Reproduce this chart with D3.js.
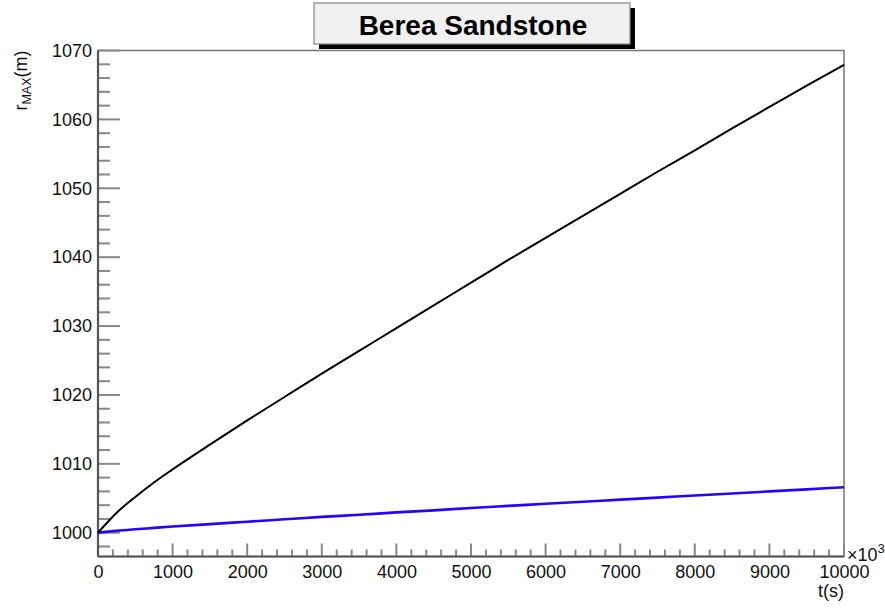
<!DOCTYPE html>
<html>
<head>
<meta charset="utf-8">
<script src="https://cdn.jsdelivr.net/npm/d3@7"></script>
<style>
  html, body { margin: 0; padding: 0; background: #fff; }
  svg { display: block; font-family: "Liberation Sans", Arial, Helvetica, sans-serif; }
</style>
</head>
<body>
<svg id="chart" width="885" height="608"></svg>
<script>
// Time samples (axis units, ×10^3 s)
const times = [0, 100, 250, 500, 750, 1000, 1500, 2000, 2500, 3000, 3500, 4000, 4500, 5000,
               5500, 6000, 6500, 7000, 7500, 8000, 8500, 9000, 9500, 10000];
// Maximum radius r_MAX (m), upper curve
const rmaxBlack = [1000, 1001.2, 1002.9, 1005.2, 1007.3, 1009.2, 1012.8, 1016.3, 1019.7, 1023.1, 1026.4,
                   1029.7, 1033.0, 1036.3, 1039.6, 1042.8, 1046.0, 1049.2, 1052.4, 1055.5, 1058.7,
                   1061.8, 1064.9, 1067.9];
// Maximum radius r_MAX (m), lower curve
const rmaxBlue = [1000, 1000.12, 1000.28, 1000.5, 1000.7, 1000.9, 1001.25, 1001.6, 1001.95, 1002.3, 1002.6,
                  1002.95, 1003.25, 1003.6, 1003.9, 1004.2, 1004.5, 1004.8, 1005.1, 1005.4, 1005.7,
                  1006.0, 1006.3, 1006.6];
const xTicks = [0, 1000, 2000, 3000, 4000, 5000, 6000, 7000, 8000, 9000, 10000];
const yTicks = [1000, 1010, 1020, 1030, 1040, 1050, 1060, 1070];
const titleText = "Berea Sandstone";

(function () {
  const svg = d3.select("#chart");
  const pl = 98, pr = 844, pt = 50.5, pb = 556.5;

  const x = d3.scaleLinear().domain([0, 10000]).range([pl, pr]);
  const y = d3.scaleLinear().domain([996.55, 1070]).range([pb, pt]);

  const axisColor = "#555";
  const tickColor = "#888";

  // Frame (top and right edges)
  svg.append("rect")
    .attr("x", pl).attr("y", pt)
    .attr("width", pr - pl).attr("height", pb - pt)
    .attr("fill", "none").attr("stroke", "#777").attr("stroke-width", 1.5);

  // Minor ticks
  const yMinor = d3.range(998, 1070, 2).filter(v => v % 10 !== 0);
  const xMinor = d3.range(200, 10000, 200).filter(v => v % 1000 !== 0);

  const g = svg.append("g");
  g.selectAll("line.ymin").data(yMinor).join("line").attr("class", "ymin")
    .attr("x1", pl).attr("x2", pl + 12)
    .attr("y1", d => y(d)).attr("y2", d => y(d))
    .attr("stroke", tickColor).attr("stroke-width", 2);
  g.selectAll("line.ymaj").data(yTicks).join("line").attr("class", "ymaj")
    .attr("x1", pl).attr("x2", pl + 22)
    .attr("y1", d => y(d)).attr("y2", d => y(d))
    .attr("stroke", tickColor).attr("stroke-width", 2);
  g.selectAll("line.xmin").data(xMinor).join("line").attr("class", "xmin")
    .attr("x1", d => x(d)).attr("x2", d => x(d))
    .attr("y1", pb).attr("y2", pb - 7)
    .attr("stroke", tickColor).attr("stroke-width", 2);
  g.selectAll("line.xmaj").data(xTicks).join("line").attr("class", "xmaj")
    .attr("x1", d => x(d)).attr("x2", d => x(d))
    .attr("y1", pb).attr("y2", pb - 13)
    .attr("stroke", tickColor).attr("stroke-width", 2);

  // Axis labels via d3 axes (tick lines hidden, only text used)
  const yAxis = d3.axisLeft(y).tickValues(yTicks).tickSize(0).tickPadding(6).tickFormat(d3.format("d"));
  const yg = svg.append("g").attr("transform", `translate(${pl},0)`).call(yAxis);
  yg.select(".domain").remove();
  yg.selectAll("text").attr("font-size", 18).attr("fill", "#111")
    .attr("font-family", "Liberation Sans, Arial, sans-serif");

  const xAxis = d3.axisBottom(x).tickValues(xTicks).tickSize(0).tickPadding(9).tickFormat(d3.format("d"));
  const xg = svg.append("g").attr("transform", `translate(0,${pb})`).call(xAxis);
  xg.select(".domain").remove();
  xg.selectAll("text").attr("font-size", 18).attr("fill", "#111")
    .attr("font-family", "Liberation Sans, Arial, sans-serif");

  // Main axis lines
  svg.append("line").attr("x1", pl).attr("x2", pl).attr("y1", pt).attr("y2", pb)
    .attr("stroke", axisColor).attr("stroke-width", 2.2);
  svg.append("line").attr("x1", pl).attr("x2", pr).attr("y1", pb).attr("y2", pb)
    .attr("stroke", axisColor).attr("stroke-width", 2.2);

  // Curves
  const line = d3.line().curve(d3.curveMonotoneX).x((d, i) => x(times[i])).y(d => y(d));
  svg.append("path").datum(rmaxBlue)
    .attr("d", line).attr("fill", "none")
    .attr("stroke", "#2a00ff").attr("stroke-width", 2.6);
  svg.append("path").datum(rmaxBlack)
    .attr("d", line).attr("fill", "none")
    .attr("stroke", "#000").attr("stroke-width", 2);

  // Exponent label
  const ex = svg.append("text").attr("x", pr + 3).attr("y", 561)
    .attr("font-size", 18).attr("fill", "#111");
  ex.append("tspan").text("\u00d710");
  ex.append("tspan").attr("font-size", 13).attr("dy", -8).text("3");

  // X title
  svg.append("text").attr("x", pr).attr("y", 597)
    .attr("text-anchor", "end").attr("font-size", 18).attr("fill", "#111").text("t(s)");

  // Y title
  const yt = svg.append("text")
    .attr("transform", `translate(27,${pt}) rotate(-90)`)
    .attr("text-anchor", "end").attr("font-size", 18).attr("fill", "#111");
  yt.append("tspan").text("r");
  yt.append("tspan").attr("font-size", 12.5).attr("dy", 4).text("MAX");
  yt.append("tspan").attr("dy", -4).text("(m)");

  // Title box with drop shadow
  const bx = 314, by = 3, bw = 316, bh = 41;
  svg.append("rect").attr("x", bx + 5).attr("y", by + 5).attr("width", bw).attr("height", bh)
    .attr("fill", "#000");
  svg.append("rect").attr("x", bx).attr("y", by).attr("width", bw).attr("height", bh)
    .attr("fill", "#f0f0f0").attr("stroke", "#888").attr("stroke-width", 1.2);
  svg.append("text").attr("x", bx + bw / 2 + 1).attr("y", 35)
    .attr("text-anchor", "middle").attr("font-size", 28).attr("font-weight", "bold")
    .attr("fill", "#000").text(titleText);
})();
</script>
</body>
</html>
